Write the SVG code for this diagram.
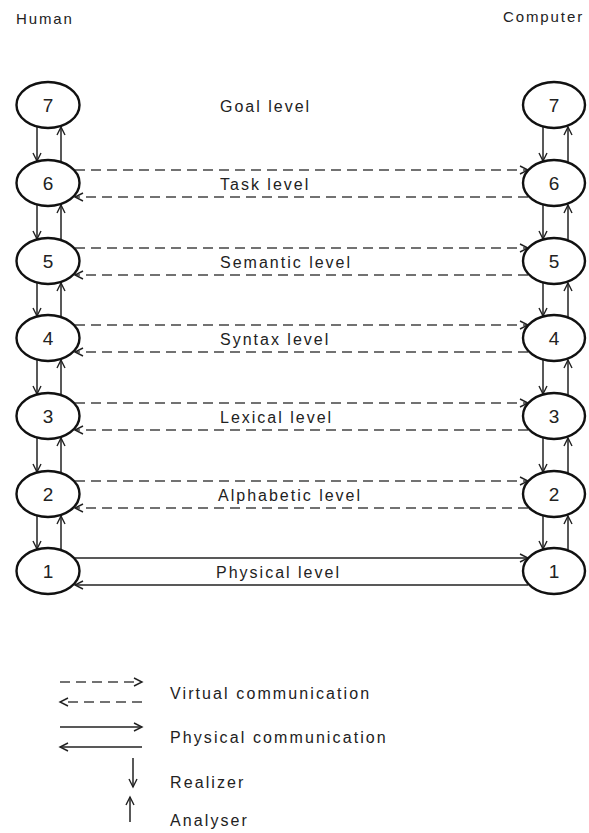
<svg xmlns="http://www.w3.org/2000/svg" width="589" height="833" viewBox="0 0 589 833">
<style>
text{font-family:"Liberation Sans",Arial,sans-serif;fill:#222}
.hdr{font-size:15px;letter-spacing:1.9px}
.lvl{font-size:16px;letter-spacing:2px}
.num{font-size:19px;text-anchor:middle}
.leg{font-size:16px;letter-spacing:2.1px}
ellipse{fill:#fff;stroke:#111;stroke-width:2.4}
.c{fill:none;stroke:#222;stroke-width:1.5}
.d{stroke-dasharray:10 6;stroke:#444;stroke-width:1.7}
</style>
<defs>
<marker id="ah" markerWidth="12" markerHeight="10" refX="9" refY="5" orient="auto" markerUnits="userSpaceOnUse">
<path d="M1,1 L9,5 L1,9" fill="none" stroke="#222" stroke-width="1.4"/>
</marker>
</defs>
<text class="hdr" x="16" y="24">Human</text>
<text class="hdr" x="503" y="22">Computer</text>
<g id="connectors">
<path class="c" d="M37,127 V161" marker-end="url(#ah)"/>
<path class="c" d="M61,162 V127" marker-end="url(#ah)"/>
<path class="c" d="M37,205 V239" marker-end="url(#ah)"/>
<path class="c" d="M61,240 V205" marker-end="url(#ah)"/>
<path class="c" d="M37,283 V316" marker-end="url(#ah)"/>
<path class="c" d="M61,317 V283" marker-end="url(#ah)"/>
<path class="c" d="M37,360 V394" marker-end="url(#ah)"/>
<path class="c" d="M61,395 V360" marker-end="url(#ah)"/>
<path class="c" d="M37,438 V472" marker-end="url(#ah)"/>
<path class="c" d="M61,473 V438" marker-end="url(#ah)"/>
<path class="c" d="M37,516 V549" marker-end="url(#ah)"/>
<path class="c" d="M61,550 V516" marker-end="url(#ah)"/>
<path class="c" d="M543,127 V161" marker-end="url(#ah)"/>
<path class="c" d="M568,162 V127" marker-end="url(#ah)"/>
<path class="c" d="M543,205 V239" marker-end="url(#ah)"/>
<path class="c" d="M568,240 V205" marker-end="url(#ah)"/>
<path class="c" d="M543,283 V316" marker-end="url(#ah)"/>
<path class="c" d="M568,317 V283" marker-end="url(#ah)"/>
<path class="c" d="M543,360 V394" marker-end="url(#ah)"/>
<path class="c" d="M568,395 V360" marker-end="url(#ah)"/>
<path class="c" d="M543,438 V472" marker-end="url(#ah)"/>
<path class="c" d="M568,473 V438" marker-end="url(#ah)"/>
<path class="c" d="M543,516 V549" marker-end="url(#ah)"/>
<path class="c" d="M568,550 V516" marker-end="url(#ah)"/>
<path class="c d" d="M75,170 H528" marker-end="url(#ah)"/>
<path class="c d" d="M528,197 H75" marker-end="url(#ah)"/>
<path class="c d" d="M75,248 H528" marker-end="url(#ah)"/>
<path class="c d" d="M528,275 H75" marker-end="url(#ah)"/>
<path class="c d" d="M75,325 H528" marker-end="url(#ah)"/>
<path class="c d" d="M528,352 H75" marker-end="url(#ah)"/>
<path class="c d" d="M75,403 H528" marker-end="url(#ah)"/>
<path class="c d" d="M528,430 H75" marker-end="url(#ah)"/>
<path class="c d" d="M75,481 H528" marker-end="url(#ah)"/>
<path class="c d" d="M528,508 H75" marker-end="url(#ah)"/>
<path class="c" d="M75,558 H528" marker-end="url(#ah)"/>
<path class="c" d="M528,585 H75" marker-end="url(#ah)"/>
</g>
<g id="h7"><ellipse cx="48" cy="105" rx="31.5" ry="23"/><text class="num" x="48" y="112">7</text></g>
<g id="h6"><ellipse cx="48" cy="183" rx="31.5" ry="23"/><text class="num" x="48" y="190">6</text></g>
<g id="h5"><ellipse cx="48" cy="261" rx="31.5" ry="23"/><text class="num" x="48" y="268">5</text></g>
<g id="h4"><ellipse cx="48" cy="338" rx="31.5" ry="23"/><text class="num" x="48" y="345">4</text></g>
<g id="h3"><ellipse cx="48" cy="416" rx="31.5" ry="23"/><text class="num" x="48" y="423">3</text></g>
<g id="h2"><ellipse cx="48" cy="494" rx="31.5" ry="23"/><text class="num" x="48" y="501">2</text></g>
<g id="h1"><ellipse cx="48" cy="571" rx="31.5" ry="23"/><text class="num" x="48" y="578">1</text></g>
<g id="c7"><ellipse cx="554" cy="105" rx="31" ry="23"/><text class="num" x="554" y="112">7</text></g>
<g id="c6"><ellipse cx="554" cy="183" rx="31" ry="23"/><text class="num" x="554" y="190">6</text></g>
<g id="c5"><ellipse cx="554" cy="261" rx="31" ry="23"/><text class="num" x="554" y="268">5</text></g>
<g id="c4"><ellipse cx="554" cy="338" rx="31" ry="23"/><text class="num" x="554" y="345">4</text></g>
<g id="c3"><ellipse cx="554" cy="416" rx="31" ry="23"/><text class="num" x="554" y="423">3</text></g>
<g id="c2"><ellipse cx="554" cy="494" rx="31" ry="23"/><text class="num" x="554" y="501">2</text></g>
<g id="c1"><ellipse cx="554" cy="571" rx="31" ry="23"/><text class="num" x="554" y="578">1</text></g>
<g id="labels">
<text class="lvl" x="220" y="112">Goal level</text>
<text class="lvl" x="220" y="190">Task level</text>
<text class="lvl" x="220" y="268">Semantic level</text>
<text class="lvl" x="220" y="345">Syntax level</text>
<text class="lvl" x="220" y="423">Lexical level</text>
<text class="lvl" x="218" y="501">Alphabetic level</text>
<text class="lvl" x="216" y="578">Physical level</text>
</g>
<g id="legend">
<path class="c d" d="M60,682 H142" marker-end="url(#ah)"/>
<path class="c d" d="M142,702 H60" marker-end="url(#ah)"/>
<path class="c" d="M60,727 H142" marker-end="url(#ah)"/>
<path class="c" d="M142,747 H60" marker-end="url(#ah)"/>
<path class="c" d="M133,758 V787" marker-end="url(#ah)"/>
<path class="c" d="M130,822 V797" marker-end="url(#ah)"/>
<text class="leg" x="170" y="699">Virtual communication</text>
<text class="leg" x="170" y="743">Physical communication</text>
<text class="leg" x="170" y="788">Realizer</text>
<text class="leg" x="170" y="826">Analyser</text>
</g>
</svg>
